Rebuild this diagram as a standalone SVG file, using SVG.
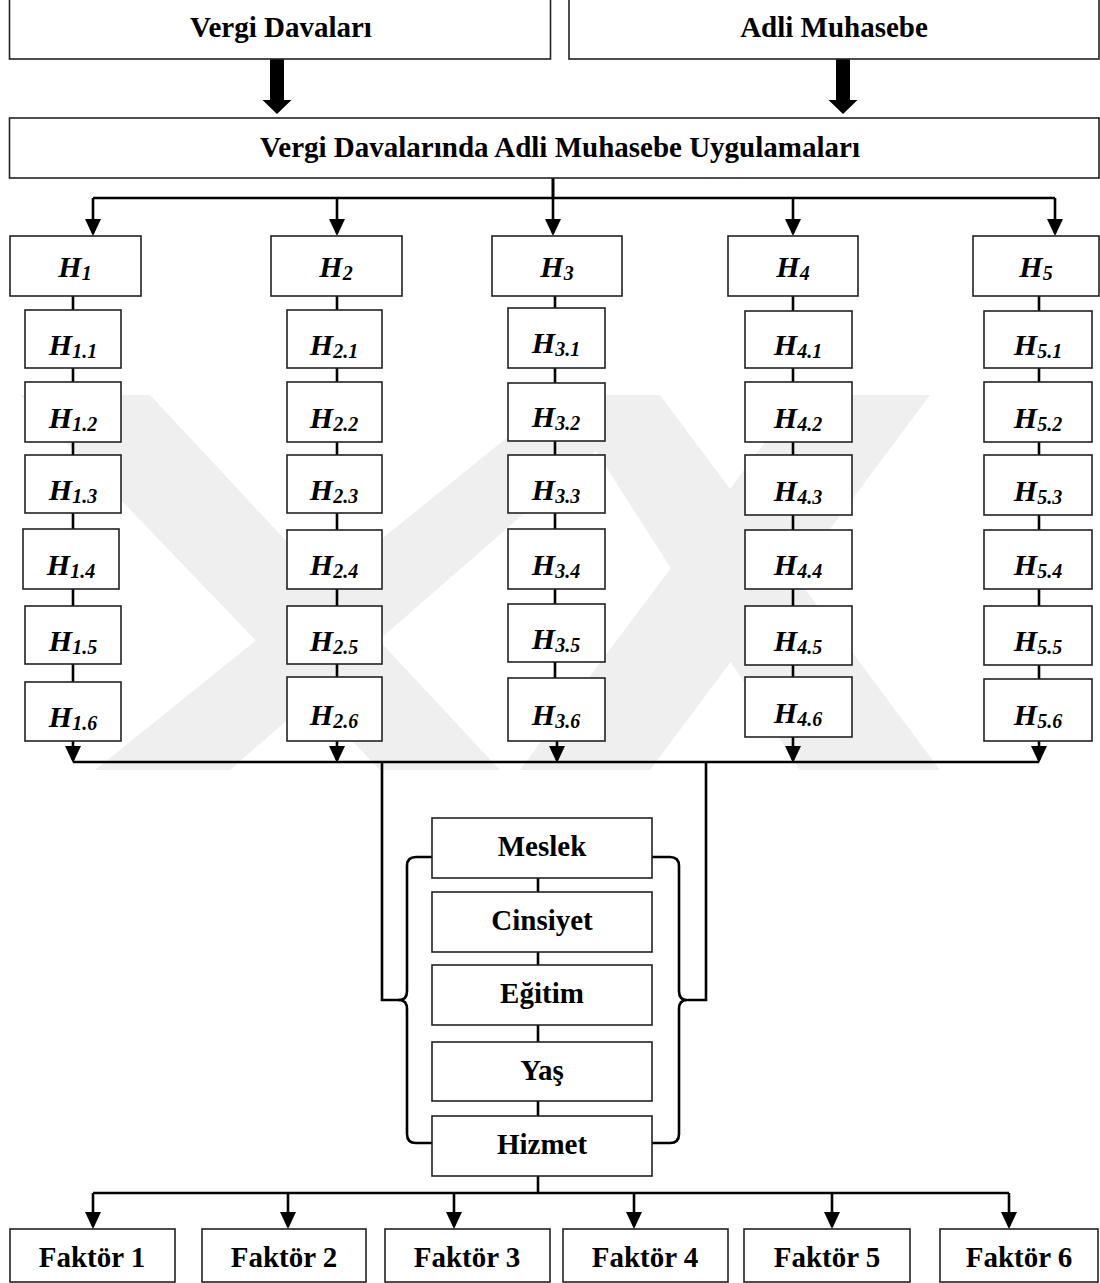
<svg xmlns="http://www.w3.org/2000/svg" width="1100" height="1283" viewBox="0 0 1100 1283">
  <defs>
    <style>
      .box { fill: #ffffff; stroke: #222222; stroke-width: 1.6; }
      .lbl { font-family: "Liberation Serif", "Times New Roman", serif; font-weight: bold; font-size: 29px; fill: #000000; text-anchor: middle; }
      .h { font-family: "Liberation Serif", "Times New Roman", serif; font-weight: bold; font-style: italic; font-size: 30px; fill: #000000; text-anchor: middle; }
      .sub { font-size: 20px; }
      .wire { fill: none; stroke: #000000; stroke-width: 2.6; }
      .arrow { fill: none; stroke: #000000; stroke-width: 2.6; marker-end: url(#ah); }
      .brace { fill: none; stroke: #000000; stroke-width: 2.6; stroke-linejoin: round; }
      .mark { fill: #efefef; }
    </style>
    <marker id="ah" markerUnits="userSpaceOnUse" markerWidth="17" markerHeight="16" refX="14" refY="8" orient="auto">
      <path d="M0,0 L17,8 L0,16 z" fill="#000000"/>
    </marker>
    <path id="block" d="M-7,0 L7,0 L7,43 L14.5,43 L0,57 L-14.5,43 L-7,43 z" fill="#000000"/>
  </defs>

  <rect width="1100" height="1283" fill="#ffffff"/>

  <!-- faint background emblem -->
  <g id="emblem">
    <polygon class="mark" points="20,395 150,395 500,770 380,770"/>
    <polygon class="mark" points="560,395 660,395 230,770 95,770"/>
    <polygon class="mark" points="560,395 660,395 940,770 800,770"/>
    <polygon class="mark" points="800,395 930,395 650,770 520,770"/>
  </g>

  <!-- connectors -->
  <g id="connectors">
    <use href="#block" x="277" y="57"/>
    <use href="#block" x="843" y="57"/>

    <!-- main box to hypothesis groups -->
    <path class="wire" d="M553,178 V198"/>
    <path class="wire" d="M93,198 H1055"/>
    <path class="arrow" d="M93,198 V233"/>
    <path class="arrow" d="M337,198 V233"/>
    <path class="arrow" d="M553,178 V233"/>
    <path class="arrow" d="M793,198 V233"/>
    <path class="arrow" d="M1055,198 V233"/>

    <!-- column links -->
    <path class="wire" d="M73,296 V682"/>
    <path class="wire" d="M337,296 V679"/>
    <path class="wire" d="M555,296 V679"/>
    <path class="wire" d="M793,296 V679"/>
    <path class="wire" d="M1039,296 V679"/>

    <!-- columns to collector line -->
    <path class="arrow" d="M73,741 V760"/>
    <path class="arrow" d="M337,741 V760"/>
    <path class="arrow" d="M557,741 V760"/>
    <path class="arrow" d="M793,737 V760"/>
    <path class="arrow" d="M1039,741 V760"/>
    <path class="wire" d="M73,762 H1039"/>

    <!-- collector line to demographic braces -->
    <path class="wire" d="M382,762 V1000 H400"/>
    <path class="wire" d="M706,762 V1000 H688"/>
    <path class="brace" d="M432,857 H416 Q407,857 407,866 V991 Q407,1000 399,1000 Q407,1000 407,1009 V1134 Q407,1143 416,1143 H432"/>
    <path class="brace" d="M652,857 H670 Q679,857 679,866 V991 Q679,1000 687,1000 Q679,1000 679,1009 V1134 Q679,1143 670,1143 H652"/>

    <!-- demographic chain -->
    <path class="wire" d="M538,878 V1116"/>
    <path class="wire" d="M538,1176 V1193"/>
    <path class="wire" d="M93,1193 H1009"/>
    <path class="arrow" d="M93,1193 V1226"/>
    <path class="arrow" d="M288,1193 V1226"/>
    <path class="arrow" d="M454,1193 V1226"/>
    <path class="arrow" d="M634,1193 V1226"/>
    <path class="arrow" d="M832,1193 V1226"/>
    <path class="arrow" d="M1009,1193 V1226"/>
  </g>

  <!-- sources -->
  <g id="vergi-davalari"><rect class="box" x="9.5" y="-1" width="541" height="60"/><text class="lbl" x="281" y="37">Vergi Davaları</text></g>
  <g id="adli-muhasebe"><rect class="box" x="569" y="-1" width="530" height="60"/><text class="lbl" x="834" y="37">Adli Muhasebe</text></g>
  <g id="uygulamalar"><rect class="box" x="9.5" y="118" width="1089.5" height="60"/><text class="lbl" x="560" y="157">Vergi Davalarında Adli Muhasebe Uygulamaları</text></g>

  <!-- hypothesis group 1 -->
  <g id="h1"><rect class="box" x="10" y="236" width="131" height="60"/><text class="h" x="75" y="277">H<tspan class="sub" dy="3">1</tspan></text></g>
  <g id="h1-1"><rect class="box" x="25" y="310" width="96" height="58"/><text class="h" x="73" y="355">H<tspan class="sub" dy="3">1.1</tspan></text></g>
  <g id="h1-2"><rect class="box" x="25" y="382" width="96" height="60"/><text class="h" x="73" y="428">H<tspan class="sub" dy="3">1.2</tspan></text></g>
  <g id="h1-3"><rect class="box" x="25" y="455" width="96" height="58"/><text class="h" x="73" y="500">H<tspan class="sub" dy="3">1.3</tspan></text></g>
  <g id="h1-4"><rect class="box" x="23" y="529" width="96" height="60"/><text class="h" x="71" y="575">H<tspan class="sub" dy="3">1.4</tspan></text></g>
  <g id="h1-5"><rect class="box" x="25" y="606" width="96" height="58"/><text class="h" x="73" y="651">H<tspan class="sub" dy="3">1.5</tspan></text></g>
  <g id="h1-6"><rect class="box" x="25" y="682" width="96" height="59"/><text class="h" x="73" y="727">H<tspan class="sub" dy="3">1.6</tspan></text></g>

  <!-- hypothesis group 2 -->
  <g id="h2"><rect class="box" x="271" y="236" width="131" height="60"/><text class="h" x="336" y="277">H<tspan class="sub" dy="3">2</tspan></text></g>
  <g id="h2-1"><rect class="box" x="287" y="310" width="95" height="58"/><text class="h" x="334" y="355">H<tspan class="sub" dy="3">2.1</tspan></text></g>
  <g id="h2-2"><rect class="box" x="287" y="382" width="95" height="60"/><text class="h" x="334" y="428">H<tspan class="sub" dy="3">2.2</tspan></text></g>
  <g id="h2-3"><rect class="box" x="287" y="455" width="95" height="58"/><text class="h" x="334" y="500">H<tspan class="sub" dy="3">2.3</tspan></text></g>
  <g id="h2-4"><rect class="box" x="287" y="530" width="95" height="59"/><text class="h" x="334" y="575">H<tspan class="sub" dy="3">2.4</tspan></text></g>
  <g id="h2-5"><rect class="box" x="287" y="606" width="95" height="58"/><text class="h" x="334" y="651">H<tspan class="sub" dy="3">2.5</tspan></text></g>
  <g id="h2-6"><rect class="box" x="287" y="677" width="95" height="64"/><text class="h" x="334" y="725">H<tspan class="sub" dy="3">2.6</tspan></text></g>

  <!-- hypothesis group 3 -->
  <g id="h3"><rect class="box" x="492" y="236" width="130" height="60"/><text class="h" x="557" y="277">H<tspan class="sub" dy="3">3</tspan></text></g>
  <g id="h3-1"><rect class="box" x="508" y="308" width="97" height="60"/><text class="h" x="556" y="353">H<tspan class="sub" dy="3">3.1</tspan></text></g>
  <g id="h3-2"><rect class="box" x="508" y="383" width="97" height="58"/><text class="h" x="556" y="427">H<tspan class="sub" dy="3">3.2</tspan></text></g>
  <g id="h3-3"><rect class="box" x="508" y="455" width="97" height="58"/><text class="h" x="556" y="500">H<tspan class="sub" dy="3">3.3</tspan></text></g>
  <g id="h3-4"><rect class="box" x="508" y="529" width="97" height="60"/><text class="h" x="556" y="575">H<tspan class="sub" dy="3">3.4</tspan></text></g>
  <g id="h3-5"><rect class="box" x="508" y="604" width="97" height="58"/><text class="h" x="556" y="649">H<tspan class="sub" dy="3">3.5</tspan></text></g>
  <g id="h3-6"><rect class="box" x="508" y="678" width="97" height="63"/><text class="h" x="556" y="725">H<tspan class="sub" dy="3">3.6</tspan></text></g>

  <!-- hypothesis group 4 -->
  <g id="h4"><rect class="box" x="728" y="236" width="130" height="60"/><text class="h" x="793" y="277">H<tspan class="sub" dy="3">4</tspan></text></g>
  <g id="h4-1"><rect class="box" x="745" y="311" width="107" height="57"/><text class="h" x="798" y="355">H<tspan class="sub" dy="3">4.1</tspan></text></g>
  <g id="h4-2"><rect class="box" x="745" y="382" width="107" height="60"/><text class="h" x="798" y="428">H<tspan class="sub" dy="3">4.2</tspan></text></g>
  <g id="h4-3"><rect class="box" x="745" y="455" width="107" height="60"/><text class="h" x="798" y="501">H<tspan class="sub" dy="3">4.3</tspan></text></g>
  <g id="h4-4"><rect class="box" x="745" y="530" width="107" height="59"/><text class="h" x="798" y="575">H<tspan class="sub" dy="3">4.4</tspan></text></g>
  <g id="h4-5"><rect class="box" x="745" y="606" width="107" height="59"/><text class="h" x="798" y="651">H<tspan class="sub" dy="3">4.5</tspan></text></g>
  <g id="h4-6"><rect class="box" x="745" y="677" width="107" height="60"/><text class="h" x="798" y="723">H<tspan class="sub" dy="3">4.6</tspan></text></g>

  <!-- hypothesis group 5 -->
  <g id="h5"><rect class="box" x="973" y="236" width="126" height="60"/><text class="h" x="1036" y="277">H<tspan class="sub" dy="3">5</tspan></text></g>
  <g id="h5-1"><rect class="box" x="984" y="311" width="108" height="57"/><text class="h" x="1038" y="355">H<tspan class="sub" dy="3">5.1</tspan></text></g>
  <g id="h5-2"><rect class="box" x="984" y="382" width="108" height="60"/><text class="h" x="1038" y="428">H<tspan class="sub" dy="3">5.2</tspan></text></g>
  <g id="h5-3"><rect class="box" x="984" y="455" width="108" height="60"/><text class="h" x="1038" y="501">H<tspan class="sub" dy="3">5.3</tspan></text></g>
  <g id="h5-4"><rect class="box" x="984" y="530" width="108" height="59"/><text class="h" x="1038" y="575">H<tspan class="sub" dy="3">5.4</tspan></text></g>
  <g id="h5-5"><rect class="box" x="984" y="606" width="108" height="59"/><text class="h" x="1038" y="651">H<tspan class="sub" dy="3">5.5</tspan></text></g>
  <g id="h5-6"><rect class="box" x="984" y="679" width="108" height="62"/><text class="h" x="1038" y="725">H<tspan class="sub" dy="3">5.6</tspan></text></g>

  <!-- demographic variables -->
  <g id="meslek"><rect class="box" x="432" y="818" width="220" height="60"/><text class="lbl" x="542" y="856">Meslek</text></g>
  <g id="cinsiyet"><rect class="box" x="432" y="892" width="220" height="60"/><text class="lbl" x="542" y="930">Cinsiyet</text></g>
  <g id="egitim"><rect class="box" x="432" y="965" width="220" height="60"/><text class="lbl" x="542" y="1003">Eğitim</text></g>
  <g id="yas"><rect class="box" x="432" y="1042" width="220" height="59"/><text class="lbl" x="542" y="1080">Yaş</text></g>
  <g id="hizmet"><rect class="box" x="432" y="1116" width="220" height="60"/><text class="lbl" x="542" y="1154">Hizmet</text></g>

  <!-- factors -->
  <g id="faktor-1"><rect class="box" x="10" y="1229" width="165" height="53"/><text class="lbl" x="92" y="1267">Faktör 1</text></g>
  <g id="faktor-2"><rect class="box" x="202" y="1229" width="164" height="53"/><text class="lbl" x="284" y="1267">Faktör 2</text></g>
  <g id="faktor-3"><rect class="box" x="385" y="1229" width="165" height="53"/><text class="lbl" x="467" y="1267">Faktör 3</text></g>
  <g id="faktor-4"><rect class="box" x="563" y="1229" width="165" height="53"/><text class="lbl" x="645" y="1267">Faktör 4</text></g>
  <g id="faktor-5"><rect class="box" x="744" y="1229" width="166" height="53"/><text class="lbl" x="827" y="1267">Faktör 5</text></g>
  <g id="faktor-6"><rect class="box" x="940" y="1229" width="158" height="53"/><text class="lbl" x="1019" y="1267">Faktör 6</text></g>
</svg>
